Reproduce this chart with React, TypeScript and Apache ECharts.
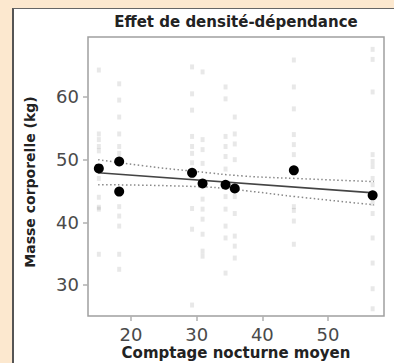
import React, { useEffect, useRef } from 'react';
import * as echarts from 'echarts';

const titleText = 'Effet de densité-dépendance';
const xName = 'Comptage nocturne moyen';
const yName = 'Masse corporelle (kg)';

const xTicks = [20, 30, 40, 50];
const yTicks = [30, 40, 50, 60];

const meanX = [15.1, 18.2, 18.2, 29.3, 30.9, 34.4, 35.8, 44.8, 56.8];
const meanY = [48.6, 49.7, 44.9, 47.9, 46.2, 46.0, 45.4, 48.3, 44.3];

const fitX = [15, 57];
const fitY = [47.9, 44.7];

const ciUpperX = [15, 22, 30, 37, 45, 57];
const ciUpperY = [50.0, 49.0, 48.1, 47.4, 47.0, 46.5];
const ciLowerX = [15, 30, 36, 45, 57];
const ciLowerY = [46.0, 45.7, 45.2, 44.1, 42.8];

const rawColumnX = [15.1, 18.2, 29.3, 30.9, 34.4, 35.8, 44.8, 56.8];
const rawColumnY = [
  [64.3, 54.1, 53.2, 52.1, 51.4, 47.0, 44.0, 42.4, 42.1, 34.9],
  [62.1, 59.5, 56.8, 54.1, 52.1, 51.0, 42.5, 41.0, 39.4, 34.9, 32.5],
  [64.8, 60.5, 57.9, 53.7, 52.1, 51.0, 49.5, 42.2, 38.9, 26.8],
  [64.0, 53.2, 51.6, 49.4, 43.7, 42.1, 40.5, 38.1, 35.4, 34.6],
  [61.6, 59.7, 53.7, 52.1, 50.5, 48.5, 44.1, 42.1, 39.4, 37.5, 31.9],
  [56.8, 54.1, 52.5, 50.0, 44.1, 41.4, 37.8, 36.2, 34.3],
  [65.9, 61.6, 58.1, 54.0, 52.4, 50.8, 42.5, 41.9, 40.2, 36.5],
  [67.6, 66.0, 60.8, 50.8, 49.7, 48.9, 47.0, 46.0, 43.0, 41.4, 37.5, 33.5, 29.4, 26.2],
];

export default function App() {
  const ref = useRef<HTMLDivElement>(null);

  useEffect(() => {
    document.body.style.margin = '0';
    if (!ref.current) return;
    const chart = echarts.init(ref.current, null, { renderer: 'svg' });

    const rawData: number[][] = [];
    rawColumnX.forEach((x, i) => rawColumnY[i].forEach((y) => rawData.push([x, y])));

    const tickFont = {
      fontFamily: 'DejaVu Sans',
      fontSize: 18,
      color: '#4a4a4a',
    };

    chart.setOption({
      animation: false,
      backgroundColor: 'transparent',
      grid: {
        left: 88,
        top: 37,
        right: 10,
        bottom: 47,
        show: true,
        backgroundColor: '#ffffff',
        borderColor: '#a0a0a0',
        borderWidth: 1.5,
      },
      xAxis: {
        type: 'value',
        min: 13.45,
        max: 58.53,
        splitLine: { show: false },
        axisLine: { show: false },
        axisTick: {
          show: true,
          customValues: xTicks,
          length: 5,
          lineStyle: { color: '#b0b0b0', width: 1.5 },
        },
        axisLabel: { customValues: xTicks, margin: 9, ...tickFont },
      },
      yAxis: {
        type: 'value',
        min: 25.05,
        max: 69.57,
        splitLine: { show: false },
        axisLine: { show: false },
        axisTick: {
          show: true,
          customValues: yTicks,
          length: 5,
          lineStyle: { color: '#b0b0b0', width: 1.5 },
        },
        axisLabel: { customValues: yTicks, margin: 9, ...tickFont },
      },
      graphic: [
        {
          type: 'text',
          x: 236,
          y: 22,
          style: {
            text: titleText,
            font: 'bold 15px "DejaVu Sans"',
            fill: '#222',
            textAlign: 'center',
            textVerticalAlign: 'middle',
          },
        },
        {
          type: 'text',
          x: 236,
          y: 353,
          style: {
            text: xName,
            font: 'bold 15px "DejaVu Sans"',
            fill: '#222',
            textAlign: 'center',
            textVerticalAlign: 'middle',
          },
        },
        {
          type: 'text',
          x: 30,
          y: 182,
          rotation: Math.PI / 2,
          style: {
            text: yName,
            font: 'bold 14px "DejaVu Sans"',
            fill: '#222',
            textAlign: 'center',
            textVerticalAlign: 'middle',
          },
        },
      ],
      series: [
        {
          type: 'scatter',
          data: rawData,
          symbol: 'rect',
          symbolSize: [4, 5],
          itemStyle: { color: 'rgba(0,0,0,0.09)', opacity: 1 },
          silent: true,
        },
        {
          type: 'line',
          data: ciUpperX.map((x, i) => [x, ciUpperY[i]]),
          smooth: true,
          showSymbol: false,
          lineStyle: { color: '#888', width: 1.5, type: [1.5, 2.5] },
        },
        {
          type: 'line',
          data: ciLowerX.map((x, i) => [x, ciLowerY[i]]),
          smooth: true,
          showSymbol: false,
          lineStyle: { color: '#888', width: 1.5, type: [1.5, 2.5] },
        },
        {
          type: 'line',
          data: fitX.map((x, i) => [x, fitY[i]]),
          showSymbol: false,
          lineStyle: { color: '#444', width: 1.6 },
        },
        {
          type: 'scatter',
          data: meanX.map((x, i) => [x, meanY[i]]),
          symbol: 'circle',
          symbolSize: 10,
          itemStyle: { color: '#000', opacity: 1 },
          z: 5,
        },
      ],
    });

    return () => chart.dispose();
  }, []);

  return (
    <div style={{ position: 'relative', width: 394, height: 363, background: '#FCE8CF', overflow: 'hidden' }}>
      <div
        style={{
          position: 'absolute',
          left: 12,
          top: 8,
          width: 382,
          height: 355,
          background: '#ffffff',
          borderLeft: '2px solid #555',
          borderTop: '1.5px solid #666',
          boxSizing: 'border-box',
        }}
      />
      <div ref={ref} style={{ position: 'absolute', left: 0, top: 0, width: 394, height: 363 }} />
    </div>
  );
}
